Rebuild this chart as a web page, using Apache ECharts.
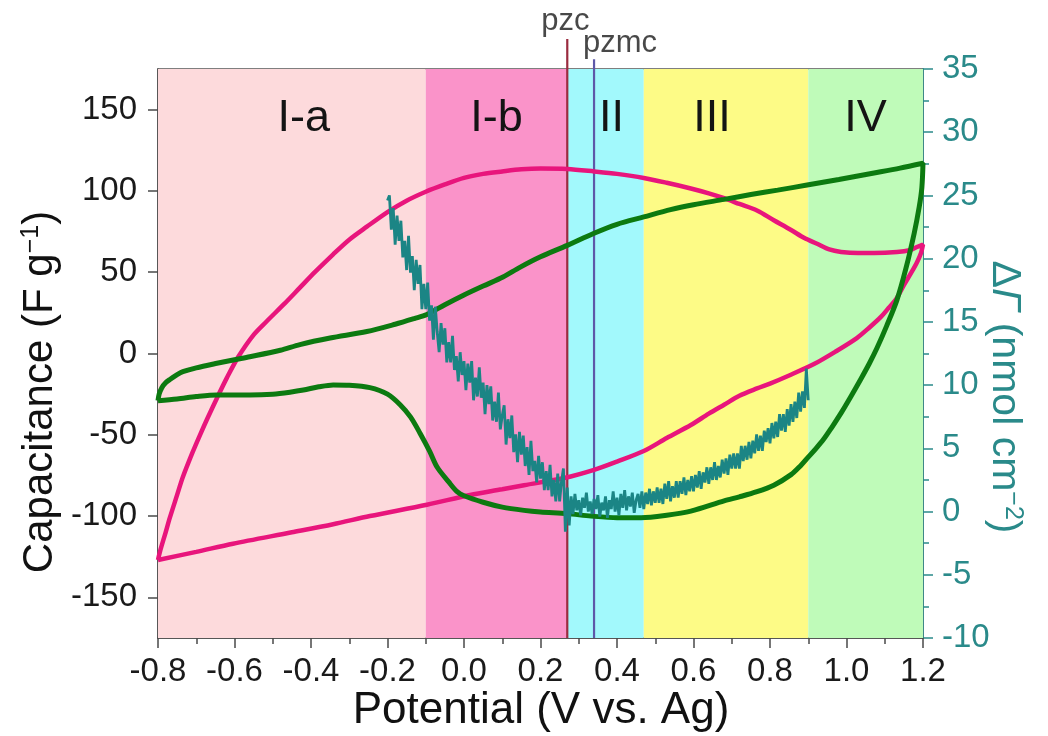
<!DOCTYPE html>
<html>
<head>
<meta charset="utf-8">
<script src="https://cdn.jsdelivr.net/npm/echarts@6/dist/echarts.min.js"></script>
<style>
html,body{margin:0;padding:0;background:#fff;}
#chart{width:1048px;height:736px;}
</style>
</head>
<body>
<div id="chart"></div>
<script>
// ---- data ----
const regionEdges = [-0.8, -0.1, 0.27, 0.47, 0.9, 1.2];
const regionNames = ['I-a', 'I-b', 'II', 'III', 'IV'];
const pzcPotential = 0.27;
const pzmcPotential = 0.34;

const xTicks = [-0.8, -0.6, -0.4, -0.2, 0.0, 0.2, 0.4, 0.6, 0.8, 1.0, 1.2];
const leftTicks = [-150, -100, -50, 0, 50, 100, 150];
const leftMinorTicks = [-125, -75, -25, 25, 75, 125];
const rightTicks = [-10, -5, 0, 5, 10, 15, 20, 25, 30, 35];

// capacitance CV loop, pink (potential V, F/g)
const pinkCV = [
[-0.800,-127],[-0.795,-122],[-0.780,-110],[-0.769,-101],[-0.750,-87],[-0.735,-76],[-0.710,-61],[-0.690,-50],[-0.670,-39.5],[-0.646,-27.5],
[-0.620,-15],[-0.590,-2],[-0.550,11.5],[-0.515,20],[-0.470,30.5],[-0.429,40.5],[-0.390,50],[-0.342,61],[-0.300,70],[-0.254,78],
[-0.200,87],[-0.150,94],[-0.100,99.5],[-0.050,104],[0.000,108],[0.050,110.5],[0.100,112],[0.150,113.3],[0.200,113.8],[0.270,113.5],
[0.340,112],[0.400,110.5],[0.470,108],[0.530,105],[0.593,101.5],[0.640,98.5],[0.680,95.5],[0.720,92],[0.766,88],[0.810,82],
[0.855,76],[0.890,71],[0.923,67.5],[0.955,64],[0.986,62.5],[1.030,61.8],[1.072,61.8],[1.132,62.4],[1.165,63.5],[1.184,65.5],[1.200,67],
[1.195,62],[1.185,56.5],[1.170,50],[1.150,42],[1.130,33.5],[1.110,28],[1.090,22.5],[1.060,16],[1.027,9.5],[0.970,1],
[0.915,-6.5],[0.850,-13.5],[0.800,-18.5],[0.766,-21.5],[0.720,-26],[0.680,-31.5],[0.640,-37],[0.593,-44],[0.530,-52],[0.470,-60],
[0.400,-66.5],[0.340,-71.6],[0.262,-76.6],[0.157,-81],[0.100,-83.5],[0.016,-87],[-0.097,-93],[-0.246,-100],[-0.342,-105],[-0.450,-110],
[-0.604,-117],[-0.700,-122],[-0.800,-127]
];

// capacitance CV loop, green (potential V, F/g)
const greenCV = [
[-0.800,-29],[-0.797,-25],[-0.790,-21],[-0.780,-18],[-0.769,-16],[-0.750,-13],[-0.735,-11.2],[-0.700,-8.8],[-0.646,-6],[-0.600,-3.8],
[-0.560,-2],[-0.480,2],[-0.429,5.5],[-0.350,9.5],[-0.254,13.5],[-0.180,18],[-0.130,21.5],[-0.097,24],[-0.050,30],[0.000,36],
[0.050,41.5],[0.102,47],[0.146,53],[0.200,59.5],[0.270,66.5],[0.340,74],[0.400,79.5],[0.470,84],[0.540,88.5],[0.600,91.5],
[0.680,94.8],[0.750,97.8],[0.820,100.5],[0.897,103.6],[0.980,107],[1.072,111],[1.140,114],[1.200,117],
[1.197,102],[1.190,90],[1.177,74],[1.155,52],[1.132,33],[1.105,17],[1.080,3.5],[1.060,-6],[1.038,-15.5],[1.010,-27],
[0.986,-36.5],[0.960,-46],[0.941,-52.5],[0.920,-58.5],[0.897,-64.5],[0.880,-69],[0.855,-74.5],[0.810,-81],[0.766,-85],[0.720,-88.2],
[0.680,-90.7],[0.593,-97],[0.530,-99.5],[0.463,-101],[0.400,-101],[0.332,-100],[0.270,-98.5],[0.200,-97.5],[0.157,-96.5],[0.100,-94.5],
[0.050,-91.5],[0.000,-87.5],[-0.018,-85],[-0.040,-79],[-0.070,-70],[-0.090,-60],[-0.115,-49],[-0.140,-39],[-0.167,-31.5],[-0.200,-25],
[-0.246,-21],[-0.300,-19.5],[-0.342,-19.3],[-0.380,-20.5],[-0.420,-22.5],[-0.455,-23.8],[-0.500,-25],[-0.560,-25.5],[-0.646,-25.5],[-0.700,-26.5],
[-0.750,-28],[-0.800,-29]
];

// surface excess ΔΓ (nmol cm^-2), sampled from -0.200 V in 0.005 V steps
const gammaStart = -0.2;
const gammaStep = 0.005;
const gammaValues = [
24.6,25.0,22.3,24.0,21.1,23.4,21.4,23.0,20.1,21.4,
19.1,21.8,18.9,20.2,17.5,19.9,18.0,19.5,16.0,18.0,
16.0,18.1,15.1,16.3,13.6,16.2,14.2,12.6,14.9,13.2,
14.5,11.8,13.4,11.8,13.9,11.2,12.3,10.3,12.6,10.8,
11.9,9.6,11.7,10.2,11.9,8.8,10.6,9.1,11.4,9.0,
10.2,7.7,10.0,8.5,9.9,7.2,8.7,7.1,9.4,6.5,
7.6,8.4,5.3,7.3,5.8,7.6,4.7,6.1,3.9,6.3,
4.5,6.0,3.6,5.1,2.9,5.6,3.2,4.0,2.3,4.4,
2.6,3.9,1.7,3.2,1.7,3.7,1.2,2.5,0.8,3.0,
0.8,2.4,3.4,-1.6,1.9,-1.1,1.2,-0.2,1.4,0.1,
0.9,-0.3,1.1,0.3,1.5,0.0,0.8,-0.2,1.0,0.2,
1.3,-0.4,0.7,0.1,1.2,-0.5,0.9,0.2,1.6,0.0,
1.1,-0.3,1.4,0.3,1.7,0.1,1.2,0.4,1.5,-0.1,
0.9,1.4,0.3,1.6,0.2,1.5,0.6,1.8,0.5,1.6,
0.7,1.9,0.7,1.8,0.6,2.2,1.0,2.4,0.8,2.0,
1.1,2.4,1.1,2.4,1.4,2.7,1.3,2.5,1.6,2.8,
1.6,2.9,1.9,3.2,1.8,3.1,2.3,3.5,2.2,3.5,
2.5,3.9,2.5,3.6,2.7,4.1,3.0,4.2,2.9,4.5,
3.4,4.6,3.4,4.6,3.4,5.2,4.0,5.2,4.1,5.5,
4.2,5.6,4.6,6.1,4.8,6.0,4.8,6.4,5.5,6.6,
5.4,7.0,5.8,7.1,5.9,7.7,6.4,7.7,6.3,8.1,
6.8,8.5,7.1,8.7,7.4,9.4,7.9,9.5,8.2,11.3,
8.8
];

// ---- build ----
const FONT = '"Liberation Sans", Arial, Helvetica, sans-serif';
const regionColors = ['#fddadc', '#fa93c9', '#a2f9fc', '#fdfb86', '#bffbb9'];
const regionLabelOffsets = [[12, 0], [0, 0], [6, 0], [-14, 0], [0, 0]];

const gammaData = gammaValues.map((v, i) => [+(gammaStart + i * gammaStep).toFixed(3), v]);

const markAreaData = regionNames.map((name, i) => [
  {
    xAxis: regionEdges[i],
    itemStyle: { color: regionColors[i], opacity: 1 },
    label: {
      show: true, position: 'insideTop', distance: 27, offset: regionLabelOffsets[i],
      formatter: name, fontSize: 45, fontFamily: FONT, color: '#141414'
    }
  },
  { xAxis: regionEdges[i + 1] }
]);

const LEFT_MIN = -175, LEFT_MAX = 175;
const PZC_TOP = 193.5, PZMC_TOP = 181;

const tickColor = '#4a4a4a';
const teal = '#2a8a8a';
const TICK_FS = 33;

const option = {
  backgroundColor: '#ffffff',
  animation: false,
  grid: { left: 158, right: 125, top: 69, bottom: 98, show: true, borderColor: '#555', borderWidth: 1.5, backgroundColor: 'transparent' },
  xAxis: [{
    type: 'value', min: -0.8, max: 1.2, interval: 0.2,
    axisLine: { show: true, onZero: false, lineStyle: { color: tickColor, width: 1.5 } },
    axisTick: { show: true, inside: false, length: 10, lineStyle: { color: tickColor, width: 1.5 } },
    minorTick: { show: true, splitNumber: 2, length: 6, lineStyle: { color: tickColor, width: 1.5 } },
    splitLine: { show: false },
    axisLabel: { fontSize: TICK_FS, fontFamily: FONT, color: '#1a1a1a', margin: 17,
      formatter: v => (Math.abs(v) < 1e-9 ? 0 : v).toFixed(1) }
  }],
  yAxis: [{
    type: 'value', min: LEFT_MIN, max: LEFT_MAX, position: 'left',
    axisLine: { show: true, onZero: false, lineStyle: { color: tickColor, width: 1.5 } },
    axisTick: { show: true, inside: false, length: 10, customValues: leftTicks, lineStyle: { color: tickColor, width: 1.5 } },
    splitLine: { show: false },
    axisLabel: { fontSize: TICK_FS, fontFamily: FONT, color: '#1a1a1a', margin: 21, customValues: leftTicks }
  }, {
    type: 'value', min: -10, max: 35, interval: 5, position: 'right',
    axisLine: { show: true, onZero: false, lineStyle: { color: teal, width: 1.5 } },
    axisTick: { show: true, inside: false, length: 10, lineStyle: { color: teal, width: 1.5 } },
    minorTick: { show: true, splitNumber: 2, length: 6, lineStyle: { color: teal, width: 1.5 } },
    splitLine: { show: false },
    axisLabel: { fontSize: TICK_FS, fontFamily: FONT, color: teal, margin: 19, customValues: rightTicks }
  }, {
    type: 'value', min: LEFT_MIN, max: LEFT_MAX, position: 'left',
    axisLine: { show: false },
    axisTick: { show: true, inside: false, length: 6, customValues: leftMinorTicks, lineStyle: { color: tickColor, width: 1.5 } },
    splitLine: { show: false },
    axisLabel: { show: false }
  }],
  graphic: [
    { type: 'text', x: 40, y: 392, rotation: Math.PI / 2, z: 10,
      style: { text: 'Capacitance (F g{sup|−1})', font: '42px ' + FONT, fill: '#111', align: 'center', verticalAlign: 'middle',
        rich: { sup: { fontSize: 25, fontFamily: FONT, verticalAlign: 'top', padding: [0, 0, 18, 0], fill: '#111' } } } },
    { type: 'text', x: 541, y: 711, z: 10,
      style: { text: 'Potential (V vs. Ag)', font: '44px ' + FONT, fill: '#111', align: 'center', verticalAlign: 'middle' } },
    { type: 'text', x: 1004, y: 397, rotation: -Math.PI / 2, z: 10,
      style: { text: 'Δ{it|Γ} (nmol cm{sup|−2})', font: '41px ' + FONT, fill: teal, align: 'center', verticalAlign: 'middle',
        rich: { it: { fontSize: 41, fontFamily: FONT, fontStyle: 'italic', fill: teal },
                sup: { fontSize: 25, fontFamily: FONT, verticalAlign: 'top', padding: [0, 0, 18, 0], fill: teal } } } }
  ],
  series: [
    { name: 'regions', type: 'line', data: [], xAxisIndex: 0, yAxisIndex: 0, z: 0, silent: true,
      markArea: { silent: true, data: markAreaData } },
    { name: 'pzc', type: 'line', xAxisIndex: 0, yAxisIndex: 0, z: 3, clip: false, symbol: 'none', silent: true,
      data: [[pzcPotential, LEFT_MIN], [pzcPotential, PZC_TOP]], lineStyle: { color: '#9a2b3f', width: 2.2 } },
    { name: 'pzmc', type: 'line', xAxisIndex: 0, yAxisIndex: 0, z: 3, clip: false, symbol: 'none', silent: true,
      data: [[pzmcPotential, LEFT_MIN], [pzmcPotential, PZMC_TOP]], lineStyle: { color: '#5d58a8', width: 2.2 } },
    { name: 'pzcLabels', type: 'scatter', xAxisIndex: 0, yAxisIndex: 0, z: 3, clip: false, symbolSize: 0, silent: true,
      data: [
        { value: [pzcPotential, PZC_TOP], label: { show: true, position: 'top', distance: 2, offset: [-2, 0], formatter: 'pzc', fontSize: 31, fontFamily: FONT, color: '#1a1a1a' } },
        { value: [pzmcPotential, PZMC_TOP], label: { show: true, position: 'top', distance: 0, offset: [26, 0], formatter: 'pzmc', fontSize: 31, fontFamily: FONT, color: '#1a1a1a' } }
      ] },
    { name: 'pink', type: 'line', xAxisIndex: 0, yAxisIndex: 0, z: 4, symbol: 'none', smooth: 0.3,
      data: pinkCV, lineStyle: { color: '#e8157c', width: 4.5 } },
    { name: 'green', type: 'line', xAxisIndex: 0, yAxisIndex: 0, z: 5, symbol: 'none', smooth: 0.3,
      data: greenCV, lineStyle: { color: '#0c7a10', width: 5 } },
    { name: 'gamma', type: 'line', xAxisIndex: 0, yAxisIndex: 1, z: 6, symbol: 'none',
      data: gammaData, lineStyle: { color: '#1b8585', width: 2.8 } }
  ]
};

const chart = echarts.init(document.getElementById('chart'), null, { renderer: 'canvas' });
chart.setOption(option);
</script>
</body>
</html>
